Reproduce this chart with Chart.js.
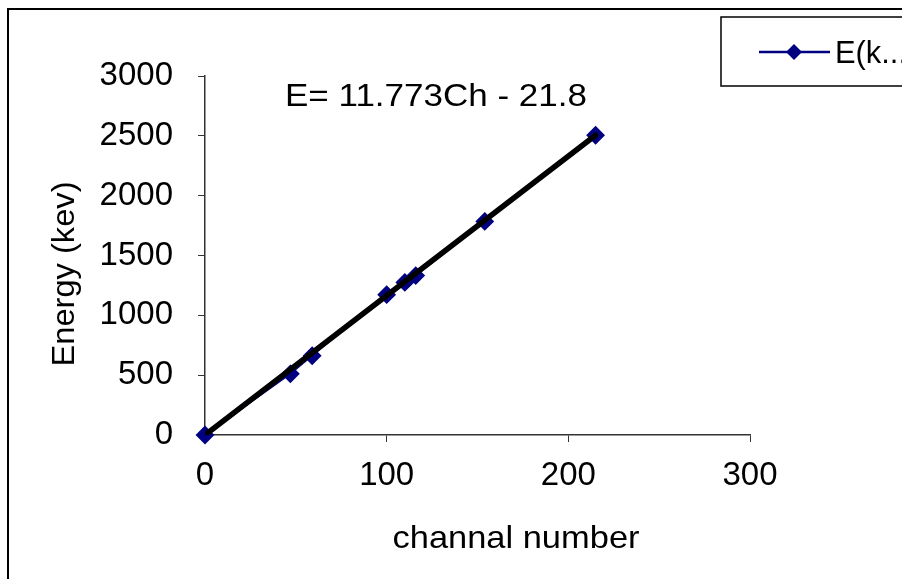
<!DOCTYPE html>
<html>
<head>
<meta charset="utf-8">
<script src="https://cdn.jsdelivr.net/npm/chart.js@4.4.1/dist/chart.umd.min.js"></script>
<style>
  html, body { margin: 0; padding: 0; background: #fff; }
  #wrap { width: 902px; height: 579px; }
</style>
</head>
<body>
<div id="wrap"><canvas id="chart" width="902" height="579"></canvas></div>
<script>
// data
const channels = [0, 47, 59, 100, 110, 116, 154, 215];
const energies = [0, 511, 662, 1173, 1275, 1332, 1785, 2505];

// black fitted line, end points as drawn
const trendX = [0, 215];
const trendY = [0, 2505];

const xTicks = [0, 100, 200, 300];
const yTicks = [0, 500, 1000, 1500, 2000, 2500, 3000];

const seriesLabel = 'E(kev)';
const equationText = 'E= 11.773Ch - 21.8';
const xTitle = 'channal number';
const yTitle = 'Energy (kev)';

const FONT = '"Liberation Sans", Arial, sans-serif';
const NAVY = '#000080';

// text in the original is a little wider than the font; stretch to the width seen
function drawText(ctx, text, x, y, width, align) {
  const w = ctx.measureText(text).width;
  const sx = width / w;
  ctx.save();
  ctx.translate(x, y);
  ctx.scale(sx, 1);
  ctx.textAlign = align;
  ctx.fillText(text, 0, 0);
  ctx.restore();
}

// frame, equation, axis titles and the (clipped) legend box
const decorations = {
  id: 'decorations',
  afterDraw(chart) {
    const ctx = chart.ctx;
    ctx.save();

    // outer chart frame (runs off the right/bottom edges)
    ctx.strokeStyle = '#000';
    ctx.lineWidth = 2;
    ctx.strokeRect(8, 9, 1000, 1000);

    ctx.fillStyle = '#000';
    ctx.font = '32px ' + FONT;
    ctx.textBaseline = 'alphabetic';

    // trendline equation
    drawText(ctx, equationText, 285, 106, 302, 'left');

    // x axis title
    drawText(ctx, xTitle, 516, 548, 247, 'center');

    // y axis title
    ctx.save();
    ctx.translate(74, 274);
    ctx.rotate(-Math.PI / 2);
    drawText(ctx, yTitle, 0, 0, 185, 'center');
    ctx.restore();

    // legend box
    ctx.lineWidth = 1.5;
    ctx.strokeRect(721, 17, 300, 69);
    ctx.strokeStyle = NAVY;
    ctx.lineWidth = 2.5;
    ctx.beginPath();
    ctx.moveTo(759, 52);
    ctx.lineTo(830, 52);
    ctx.stroke();
    ctx.fillStyle = NAVY;
    ctx.beginPath();
    ctx.moveTo(794 - 8, 52);
    ctx.lineTo(794, 52 - 8);
    ctx.lineTo(794 + 8, 52);
    ctx.lineTo(794, 52 + 8);
    ctx.closePath();
    ctx.fill();
    ctx.fillStyle = '#000';
    ctx.font = '32px ' + FONT;
    drawText(ctx, seriesLabel.slice(0, 3) + '...', 835, 63, 72, 'left');

    ctx.restore();
  }
};

const plain = v => String(v);

new Chart(document.getElementById('chart').getContext('2d'), {
  type: 'scatter',
  data: {
    datasets: [
      {
        label: 'trend',
        data: trendX.map((x, i) => ({ x, y: trendY[i] })),
        showLine: true,
        borderColor: '#000',
        borderWidth: 5.5,
        borderCapStyle: 'round',
        pointRadius: 0,
        order: 0
      },
      {
        label: seriesLabel,
        data: channels.map((x, i) => ({ x, y: energies[i] })),
        showLine: true,
        clip: false,
        borderColor: NAVY,
        borderWidth: 1.5,
        backgroundColor: NAVY,
        pointStyle: 'rectRot',
        pointRadius: 8,
        pointBorderWidth: 2,
        pointBorderColor: NAVY,
        pointBackgroundColor: NAVY,
        order: 1
      }
    ]
  },
  options: {
    responsive: false,
    animation: false,
    layout: {
      padding: { top: 76, right: 152, left: 0, bottom: 0 }
    },
    plugins: {
      legend: { display: false },
      tooltip: { enabled: false }
    },
    scales: {
      x: {
        type: 'linear',
        min: 0,
        max: 300,
        afterFit(scale) { scale.height = 144; },
        afterBuildTicks(scale) { scale.ticks = xTicks.map(v => ({ value: v })); },
        grid: {
          drawOnChartArea: false,
          drawTicks: true,
          tickLength: 7,
          tickColor: '#333'
        },
        border: { display: true, color: '#333', width: 1.5 },
        ticks: {
          color: '#000',
          padding: 14,
          callback: plain,
          font: { family: FONT, size: 33 }
        }
      },
      y: {
        type: 'linear',
        min: 0,
        max: 3000,
        afterFit(scale) { scale.width = 205; },
        afterBuildTicks(scale) { scale.ticks = yTicks.map(v => ({ value: v })); },
        grid: {
          drawOnChartArea: false,
          drawTicks: true,
          tickLength: 7,
          tickColor: '#333'
        },
        border: { display: true, color: '#333', width: 1.5 },
        ticks: {
          color: '#000',
          padding: 25,
          callback: plain,
          font: { family: FONT, size: 33 }
        }
      }
    }
  },
  plugins: [decorations]
});
</script>
</body>
</html>
